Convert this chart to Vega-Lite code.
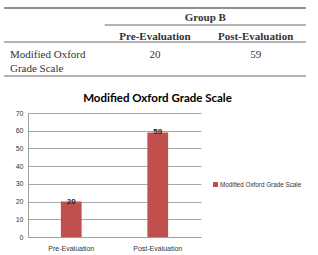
{
  "$schema": "https://vega.github.io/schema/vega-lite/v6.json",
  "background": "white",
  "padding": {"left": 3, "top": 7, "right": 0, "bottom": 0},
  "spacing": 15,
  "config": {"view": {"stroke": null}},
  "vconcat": [
    {
      "width": 278,
      "height": 68,
      "encoding": {
        "y": {"field": "row", "type": "nominal", "scale": {"domain": ["group", "header", "data1", "data2"], "paddingInner": 0, "paddingOuter": 0}, "axis": null}
      },
      "layer": [
        {
          "data": {"values": [{"row": "group", "from": "label", "to": "Post-Evaluation"}]},
          "mark": {"type": "rule", "color": "#222", "strokeWidth": 1},
          "encoding": {
            "y": {"field": "row", "type": "nominal", "bandPosition": 0},
            "x": {"field": "from", "type": "nominal", "bandPosition": 0, "scale": {"domain": ["label", "Pre-Evaluation", "Post-Evaluation"], "range": [-24, 278], "paddingInner": 0, "paddingOuter": 0}, "axis": null},
            "x2": {"field": "to", "bandPosition": 1}
          }
        },
        {
          "data": {"values": [
            {"row": "header", "from": "Pre-Evaluation", "to": "Post-Evaluation"},
            {"row": "data1", "from": "label", "to": "Post-Evaluation"}
          ]},
          "mark": {"type": "rule", "color": "#666", "strokeWidth": 1},
          "encoding": {
            "y": {"field": "row", "type": "nominal", "bandPosition": 0},
            "x": {"field": "from", "type": "nominal", "bandPosition": 0},
            "x2": {"field": "to", "bandPosition": 1}
          }
        },
        {
          "data": {"values": [{"row": "data2", "from": "label", "to": "Post-Evaluation"}]},
          "mark": {"type": "rule", "color": "#666", "strokeWidth": 1.2},
          "encoding": {
            "y": {"field": "row", "type": "nominal", "bandPosition": 1},
            "x": {"field": "from", "type": "nominal", "bandPosition": 0},
            "x2": {"field": "to", "bandPosition": 1}
          }
        },
        {
          "data": {"values": [{"row": "group", "col": "Post-Evaluation", "text": "Group B"}]},
          "mark": {"type": "text", "font": "Liberation Serif", "fontSize": 11, "fontWeight": "bold", "color": "#333", "baseline": "middle", "dy": 1},
          "encoding": {
            "y": {"field": "row", "type": "nominal"},
            "x": {"field": "col", "type": "nominal", "bandPosition": 0},
            "text": {"field": "text"}
          }
        },
        {
          "data": {"values": [{"row": "header", "col": "Pre-Evaluation", "text": "Pre-Evaluation"}, {"row": "header", "col": "Post-Evaluation", "text": "Post-Evaluation"}]},
          "mark": {"type": "text", "font": "Liberation Serif", "fontSize": 11, "fontWeight": "bold", "color": "#333", "baseline": "middle", "dy": 3},
          "encoding": {
            "y": {"field": "row", "type": "nominal"},
            "x": {"field": "col", "type": "nominal"},
            "text": {"field": "text"}
          }
        },
        {
          "data": {"values": [{"row": "data1", "col": "label", "text": "Modified Oxford\nGrade Scale"}]},
          "mark": {"type": "text", "font": "Liberation Serif", "fontSize": 11, "color": "#333", "baseline": "top", "align": "left", "dx": 6, "dy": 7, "lineBreak": "\n", "lineHeight": 14},
          "encoding": {
            "y": {"field": "row", "type": "nominal", "bandPosition": 0},
            "x": {"field": "col", "type": "nominal", "bandPosition": 0},
            "text": {"field": "text"}
          }
        },
        {
          "data": {"values": [{"row": "data1", "col": "Pre-Evaluation", "text": "20"}, {"row": "data1", "col": "Post-Evaluation", "text": "59"}]},
          "mark": {"type": "text", "font": "Liberation Serif", "fontSize": 11, "color": "#333", "baseline": "middle", "dy": 4},
          "encoding": {
            "y": {"field": "row", "type": "nominal"},
            "x": {"field": "col", "type": "nominal"},
            "text": {"field": "text"}
          }
        }
      ]
    },
    {
      "width": 173,
      "height": 124,
      "title": {"text": "Modified Oxford Grade Scale", "font": "Lato", "fontSize": 11.5, "fontWeight": "bold", "color": "#000", "anchor": "middle", "frame": "group", "dx": 43, "offset": 5},
      "data": {"values": [
        {"evaluation": "Pre-Evaluation", "score": 20, "series": "Modified Oxford Grade Scale"},
        {"evaluation": "Post-Evaluation", "score": 59, "series": "Modified Oxford Grade Scale"}
      ]},
      "encoding": {
        "x": {"field": "evaluation", "type": "nominal", "sort": null, "scale": {"paddingInner": 0.76, "paddingOuter": 0.38},
          "axis": {"title": null, "labelAngle": 0, "ticks": false, "domainColor": "#a0a0a0", "labelFont": "Liberation Sans", "labelFontSize": 7, "labelColor": "#333", "labelPadding": 7}},
        "y": {"field": "score", "type": "quantitative", "scale": {"domain": [0, 70]},
          "axis": {"title": null, "values": [0, 10, 20, 30, 40, 50, 60, 70], "ticks": false, "domain": true, "domainColor": "#a0a0a0", "gridColor": "#a8a8a8", "labelFont": "Liberation Sans", "labelFontSize": 7, "labelColor": "#333", "labelPadding": 5, "minExtent": 24}}
      },
      "layer": [
        {
          "mark": {"type": "bar", "color": "#C0504D"},
          "encoding": {
            "color": {"field": "series", "type": "nominal", "scale": {"range": ["#C0504D"]},
              "legend": {"title": null, "orient": "none", "legendX": 184, "legendY": 173, "symbolType": "square", "symbolSize": 25, "labelOffset": 1, "labelFont": "Liberation Sans", "labelFontSize": 6.3, "labelColor": "#333"}}
          }
        },
        {
          "mark": {"type": "text", "font": "Liberation Sans", "fontSize": 8, "fontWeight": "bold", "color": "#222", "baseline": "middle"},
          "encoding": {"text": {"field": "score", "type": "quantitative"}}
        }
      ]
    }
  ]
}
